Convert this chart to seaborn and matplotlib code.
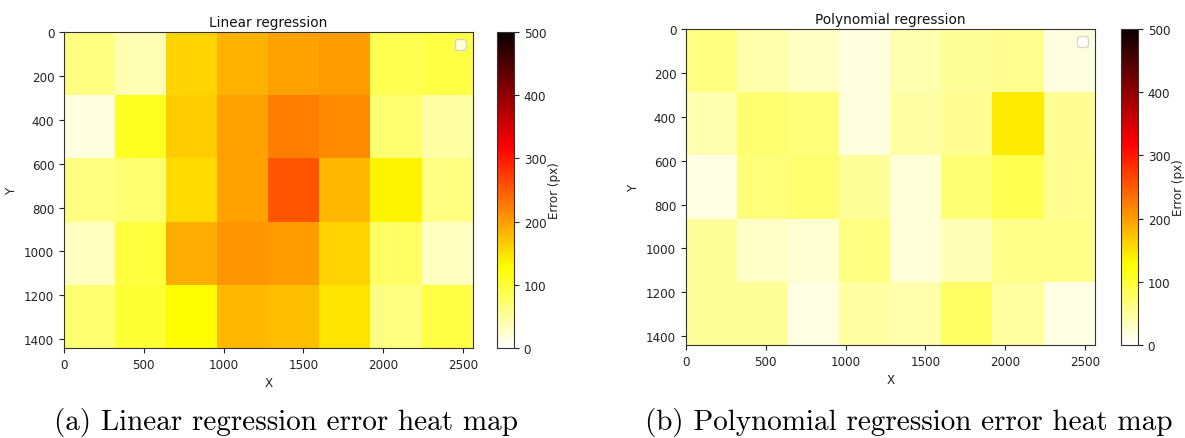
import numpy as np
import matplotlib
matplotlib.use("Agg")
import matplotlib.pyplot as plt
import seaborn as sns

# ---- data (error in px per 8x5 screen cell) ----
x_cell = 320   # px per column
y_cell = 288   # px per row
linear_err = [
    [63, 38, 160, 185, 196, 200, 87, 92],
    [17, 110, 165, 196, 223, 214, 72, 45],
    [63, 72, 154, 196, 255, 181, 135, 63],
    [32, 97, 188, 207, 200, 160, 77, 32],
    [72, 101, 128, 181, 175, 147, 63, 92],
]
poly_err = [
    [63, 42, 30, 17, 40, 52, 56, 17],
    [40, 72, 67, 17, 45, 54, 141, 54],
    [15, 67, 72, 52, 20, 70, 87, 56],
    [52, 28, 23, 63, 20, 37, 60, 60],
    [52, 52, 15, 45, 42, 77, 47, 15],
]
titles = ["Linear regression", "Polynomial regression"]
captions = ["(a) Linear regression error heat map",
            "(b) Polynomial regression error heat map"]
x_ticks = [0, 500, 1000, 1500, 2000, 2500]
y_ticks = [0, 200, 400, 600, 800, 1000, 1200, 1400]
cbar_ticks = [0, 100, 200, 300, 400, 500]

W, H = 1185, 439
fig = plt.figure(figsize=(W / 100, H / 100), dpi=100)

def fr(x0, y0, x1, y1):
    return [x0 / W, 1 - y1 / H, (x1 - x0) / W, (y1 - y0) / H]

layout = [
    (fr(64, 33, 472.6, 349), fr(497, 33, 514, 349), 286),
    (fr(686, 30, 1094.6, 346), fr(1121, 30, 1138, 346), 909),
]
fs = 8.6
for data, title, cap, (axr, cbr, cx) in zip([linear_err, poly_err], titles, captions, layout):
    ax = fig.add_axes(axr)
    cax = fig.add_axes(cbr)
    sns.heatmap(np.array(data), ax=ax, cbar_ax=cax, cmap="hot_r", vmin=0, vmax=500,
                xticklabels=False, yticklabels=False)
    for s in ax.spines.values():
        s.set_visible(True)
        s.set_linewidth(0.8)
        s.set_color("#333333")
    ax.set_xticks(np.array(x_ticks) / x_cell)
    ax.set_xticklabels([str(t) for t in x_ticks], fontsize=fs, rotation=0)
    ax.set_yticks(np.array(y_ticks) / y_cell)
    ax.set_yticklabels([str(t) for t in y_ticks], fontsize=fs, rotation=0)
    ax.tick_params(length=3.5, width=0.8, colors="#222222", labelcolor="#222222")
    ax.set_xlabel("X", fontsize=fs, color="#222222")
    ax.set_ylabel("Y", fontsize=fs, color="#222222")
    ax.set_title(title, fontsize=fs + 1.2, color="#111111", pad=4)
    ax.legend(handles=[], loc="upper right")
    cb = ax.collections[0].colorbar
    cb.outline.set_visible(True)
    cb.outline.set_linewidth(0.8)
    cb.outline.set_edgecolor("#333333")
    cb.set_ticks(cbar_ticks)
    cb.ax.tick_params(labelsize=fs, length=3.5, width=0.8, colors="#222222")
    cb.set_label("Error (px)", fontsize=fs, color="#222222", labelpad=1)
    fig.text(cx / W, 1 - 423 / H, cap, ha="center", va="center",
             fontsize=21, family="cmr10")

fig.savefig("out.png", dpi=100)
